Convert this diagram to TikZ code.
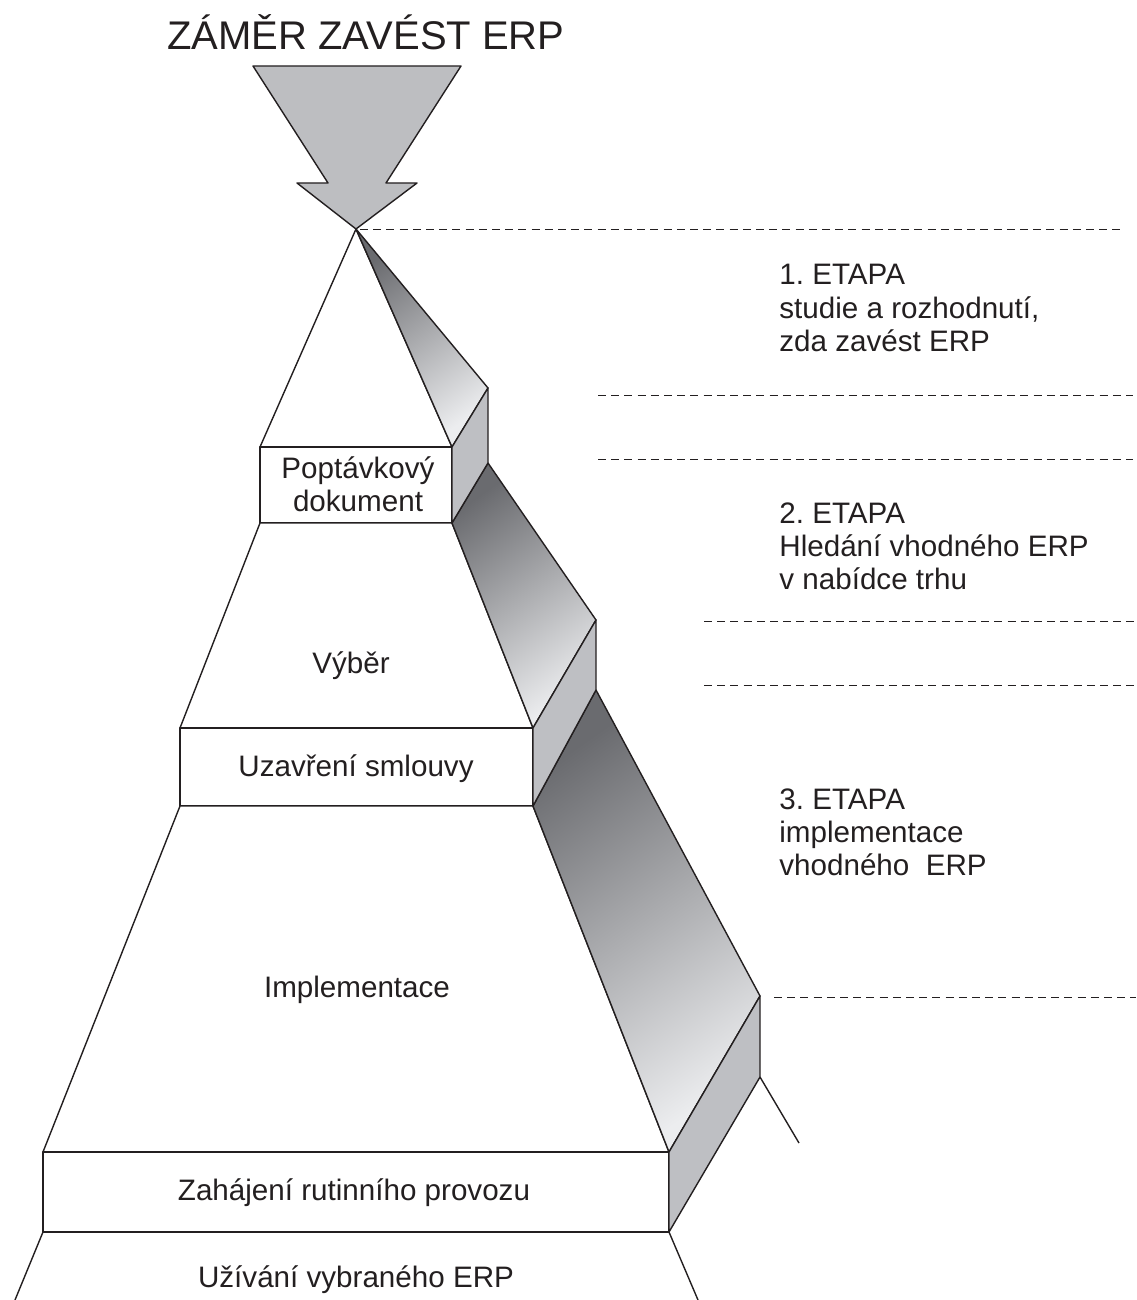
\documentclass[tikz,border=0pt]{standalone}
\usepackage{fontspec}
\setmainfont{Liberation Sans}
\frenchspacing
\begin{document}
\begin{tikzpicture}[x=0.5pt,y=-0.5pt,line join=round]
\definecolor{ink}{RGB}{35,31,32}
\definecolor{arrowgray}{RGB}{189,190,193}
\definecolor{boxgray}{RGB}{190,191,195}
\definecolor{sdark}{RGB}{106,107,111}
\definecolor{slight}{RGB}{236,237,239}
\tikzset{
  edge/.style={draw=ink,line width=0.7pt},
  sideface/.style={draw=ink,line width=0.7pt,top color=sdark,bottom color=slight,shading angle=35},
  boxside/.style={draw=ink,line width=0.7pt,fill=boxgray},
  frontface/.style={draw=ink,line width=0.7pt,fill=white},
  guide/.style={draw=ink,line width=0.5pt,dash pattern=on 4pt off 2.6pt},
  lbl/.style={text=ink,inner sep=0pt,font=\fontsize{14.8}{16.5}\selectfont},
}
\useasboundingbox (0,0) rectangle (1136,1300);

% corner points of the stepped pyramid
\coordinate (apex) at (356,229);
\coordinate (b1tl) at (260,447); \coordinate (b1tr) at (452,447);
\coordinate (b1bl) at (260,523); \coordinate (b1br) at (452,523);
\coordinate (s1t) at (488,388);  \coordinate (s1b) at (488,463);
\coordinate (b2tl) at (180,728); \coordinate (b2tr) at (533,728);
\coordinate (b2bl) at (180,806); \coordinate (b2br) at (533,806);
\coordinate (s2t) at (596,620);  \coordinate (s2b) at (596,690);
\coordinate (b3tl) at (43,1152); \coordinate (b3tr) at (669,1152);
\coordinate (b3bl) at (43,1232); \coordinate (b3br) at (669,1232);
\coordinate (s3t) at (760,996);  \coordinate (s3b) at (760,1077);
\coordinate (endl) at (15,1300); \coordinate (endr) at (698,1300);
\coordinate (ends) at (799,1143);

% downward arrow on top
\path[draw=ink,line width=0.7pt,fill=arrowgray]
  (253,66) -- (461,66) -- (386,183) -- (417,183) -- (apex)
  -- (297,183) -- (328,183) -- cycle;

% front faces
\path[frontface] (apex) -- (b1tr) -- (b1tl) -- cycle;
\path[frontface] (b1tl) rectangle (b1br);
\path[frontface] (b1bl) -- (b1br) -- (b2tr) -- (b2tl) -- cycle;
\path[frontface] (b2tl) rectangle (b2br);
\path[frontface] (b2bl) -- (b2br) -- (b3tr) -- (b3tl) -- cycle;
\path[frontface] (b3tl) rectangle (b3br);

% shaded side faces of the slopes
\path[sideface] (apex) -- (s1t) -- (b1tr) -- cycle;
\path[sideface] (b1br) -- (s1b) -- (s2t) -- (b2tr) -- cycle;
\path[sideface] (b2br) -- (s2b) -- (s3t) -- (b3tr) -- cycle;

% side faces of the steps
\path[boxside] (b1tr) -- (s1t) -- (s1b) -- (b1br) -- cycle;
\path[boxside] (b2tr) -- (s2t) -- (s2b) -- (b2br) -- cycle;
\path[boxside] (b3tr) -- (s3t) -- (s3b) -- (b3br) -- cycle;

% open base
\draw[edge] (b3bl) -- (endl);
\draw[edge] (b3br) -- (endr);
\draw[edge] (s3b) -- (ends);

% stage boundaries
\coordinate (g0a) at (360,230);  \coordinate (g0b) at (1122,230);
\coordinate (g1a) at (598,395);  \coordinate (g1b) at (1133,395);
\coordinate (g2a) at (598,459);  \coordinate (g2b) at (1133,459);
\coordinate (g3a) at (704,621);  \coordinate (g3b) at (1136,621);
\coordinate (g4a) at (704,685);  \coordinate (g4b) at (1136,685);
\coordinate (g5a) at (774,997);  \coordinate (g5b) at (1136,997);
\draw[guide] (g0a) -- (g0b);
\draw[guide] (g1a) -- (g1b);
\draw[guide] (g2a) -- (g2b);
\draw[guide] (g3a) -- (g3b);
\draw[guide] (g4a) -- (g4b);
\draw[guide] (g5a) -- (g5b);

% title
\node[text=ink,inner sep=0pt,font=\fontsize{20}{24}\selectfont,anchor=base] (title) at (366,50) {ZÁMĚR ZAVÉST ERP};

% step labels
\node[lbl,anchor=base] (pop1) at (358,478.5) {Poptávkový};
\node[lbl,anchor=base] (pop2) at (358,511.5) {dokument};
\node[lbl,anchor=base] (vyb) at (351,673.5) {Výběr};
\node[lbl,anchor=base] (uza) at (356,776.5) {Uzavření smlouvy};
\node[lbl,anchor=base] (imp) at (357,997.5) {Implementace};
\node[lbl,anchor=base] (zah) at (354,1200.5) {Zahájení rutinního provozu};
\node[lbl,anchor=base] (uzi) at (356,1287.5) {Užívání vybraného ERP};

% stage descriptions
\node[lbl,anchor=base west] (e1a) at (779,284.5) {1. ETAPA};
\node[lbl,anchor=base west] (e1b) at (779,318) {studie a rozhodnutí,};
\node[lbl,anchor=base west] (e1c) at (779,351) {zda zavést ERP};
\node[lbl,anchor=base west] (e2a) at (779,523.5) {2. ETAPA};
\node[lbl,anchor=base west] (e2b) at (779,556) {Hledání vhodného ERP};
\node[lbl,anchor=base west] (e2c) at (779,589) {v nabídce trhu};
\node[lbl,anchor=base west] (e3a) at (779,809.5) {3. ETAPA};
\node[lbl,anchor=base west] (e3b) at (779,842.5) {implementace};
\node[lbl,anchor=base west] (e3c) at (779,875) {vhodného \ ERP};
\end{tikzpicture}
\end{document}
